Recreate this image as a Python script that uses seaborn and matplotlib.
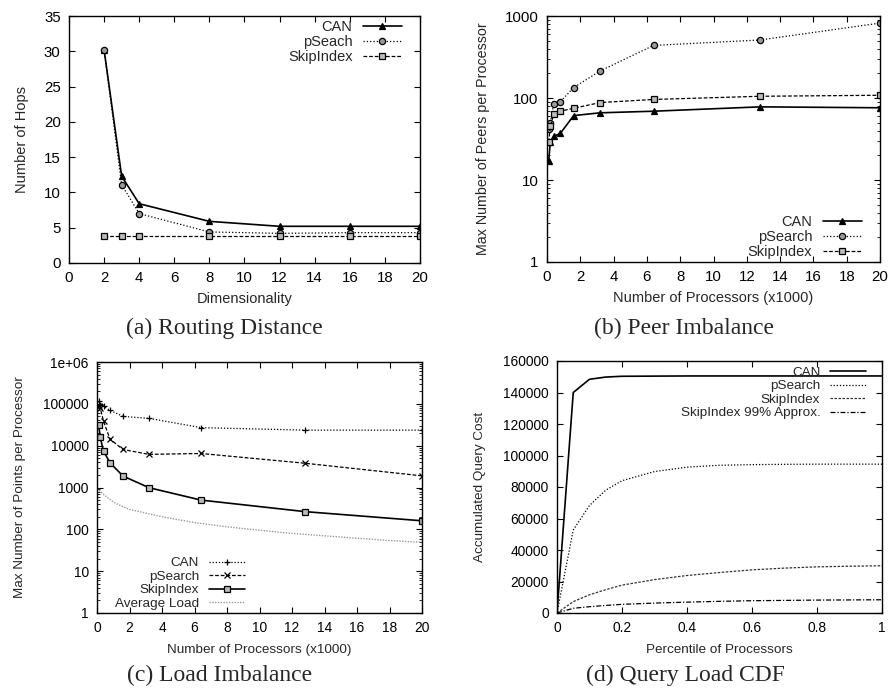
import seaborn as sns
import matplotlib.pyplot as plt
from matplotlib.ticker import FixedLocator, LogLocator, NullFormatter, FuncFormatter

# (a) Routing Distance
dims = [2, 3, 4, 8, 12, 16, 20]
hops_can = [30.2, 12.3, 8.4, 5.9, 5.2, 5.2, 5.2]
hops_psearch = [30.2, 11.1, 7.0, 4.4, 4.2, 4.3, 4.3]
hops_skip = [3.8, 3.8, 3.8, 3.8, 3.8, 3.8, 3.8]

# (b) Peer Imbalance
procs = [0.1, 0.2, 0.4, 0.8, 1.6, 3.2, 6.4, 12.8, 20]
peers_can = [17, 29, 34, 37, 61, 66, 69, 78, 76]
peers_psearch = [42, 50, 85, 90, 134, 214, 438, 510, 820]
peers_skip = [29, 45, 63, 69, 75, 88, 96, 105, 108]

# (c) Load Imbalance
load_can = [115000, 95000, 87000, 70000, 50000, 45000, 27000, 23500, 23500]
load_psearch = [90000, 80000, 38500, 14400, 8100, 6200, 6500, 3800, 1900]
load_skip = [32000, 15800, 7400, 3900, 1880, 990, 500, 265, 160]
avg_x = [0, 0.5, 1, 1.5, 2, 3, 4, 6, 8, 10, 12, 14, 16, 18, 20]
avg_load = [950, 640, 450, 360, 300, 245, 200, 145, 115, 95, 80, 70, 61, 54, 49]

# (d) Query Load CDF
pct = [0, 0.05, 0.1, 0.15, 0.2, 0.3, 0.4, 0.5, 0.6, 0.7, 0.8, 0.9, 1.0]
cdf_can = [0, 140000, 148400, 149800, 150300, 150400, 150500, 150500, 150500, 150500, 150500, 150500, 150500]
cdf_psearch = [0, 52700, 68300, 78000, 84000, 89800, 92600, 93800, 94200, 94400, 94500, 94500, 94500]
cdf_skip = [0, 7200, 11600, 14800, 17700, 21200, 23800, 25700, 27400, 28500, 29300, 29700, 30000]
cdf_skip99 = [0, 3000, 4000, 4800, 5500, 6300, 6900, 7400, 7800, 8000, 8200, 8300, 8400]

sns.set_style("ticks")
plt.rcParams["font.family"] = ["Liberation Sans", "DejaVu Sans"]

W, H = 891, 690
fig = plt.figure(figsize=(W / 100, H / 100), dpi=100)


def make_ax(l, r, t, b):
    return fig.add_axes([l / W, 1 - b / H, (r - l) / W, (b - t) / H])


def frame(ax, size):
    for s in ax.spines.values():
        s.set_color("black")
        s.set_linewidth(1.0)
    ax.tick_params(which="both", direction="in", top=True, right=True,
                   colors="black", labelsize=size, pad=6)
    ax.tick_params(which="major", length=4)
    ax.tick_params(which="minor", length=2.5)


def key(ax, x, y, loc, size):
    ax.legend(loc=loc, bbox_to_anchor=(x, y), frameon=False, markerfirst=False,
              fontsize=size, handlelength=2.7, labelspacing=0.08, borderpad=0,
              borderaxespad=0, handletextpad=0.7)


mk = dict(markersize=4.5, markeredgewidth=0.9, markeredgecolor="black")

# ---- (a)
ax1 = make_ax(69, 420, 16, 263)
sns.lineplot(x=dims, y=hops_can, ax=ax1, color="black", lw=1.2, linestyle="-",
             marker="^", markerfacecolor="black", label="CAN", **mk)
sns.lineplot(x=dims, y=hops_psearch, ax=ax1, color="black", lw=0.9, linestyle=":",
             marker="o", markerfacecolor="#999999", label="pSeach", **mk)
sns.lineplot(x=dims, y=hops_skip, ax=ax1, color="black", lw=0.9, linestyle=(0, (3, 1.5)),
             marker="s", markerfacecolor="#bbbbbb", label="SkipIndex", **mk)
ax1.set_xlim(0, 20)
ax1.set_ylim(0, 35)
ax1.set_xticks(range(0, 21, 2))
ax1.set_yticks(range(0, 36, 5))
ax1.set_xlabel("Dimensionality", fontsize=10.5, labelpad=5)
ax1.set_ylabel("Number of Hops", fontsize=10.5, labelpad=11)
frame(ax1, 10.8)
key(ax1, 0.949, 0.985, "upper right", 10.5)

# ---- (b)
ax2 = make_ax(547, 880, 16, 262)
sns.lineplot(x=procs, y=peers_can, ax=ax2, color="black", lw=1.2, linestyle="-",
             marker="^", markerfacecolor="black", label="CAN", **mk)
sns.lineplot(x=procs, y=peers_psearch, ax=ax2, color="black", lw=0.9, linestyle=":",
             marker="o", markerfacecolor="#999999", label="pSearch", **mk)
sns.lineplot(x=procs, y=peers_skip, ax=ax2, color="black", lw=0.9, linestyle=(0, (3, 1.5)),
             marker="s", markerfacecolor="#bbbbbb", label="SkipIndex", **mk)
ax2.set_yscale("log")
ax2.set_xlim(0, 20)
ax2.set_ylim(1, 1000)
ax2.set_xticks(range(0, 21, 2))
ax2.yaxis.set_major_locator(FixedLocator([1, 10, 100, 1000]))
ax2.yaxis.set_minor_locator(LogLocator(base=10, subs=range(2, 10)))
ax2.yaxis.set_minor_formatter(NullFormatter())
ax2.yaxis.set_major_formatter(FuncFormatter(lambda v, p: "%d" % v))
ax2.set_xlabel("Number of Processors (x1000)", fontsize=10.5, labelpad=5)
ax2.set_ylabel("Max Number of Peers per Processor", fontsize=10.3, labelpad=11)
frame(ax2, 10.8)
key(ax2, 0.946, 0.012, "lower right", 10.5)

# ---- (c)
ax3 = make_ax(97, 422, 362, 613)
sns.lineplot(x=procs, y=load_can, ax=ax3, color="black", lw=0.9, linestyle=(0, (1, 1.5)),
             marker="+", label="CAN", **mk)
sns.lineplot(x=procs, y=load_psearch, ax=ax3, color="black", lw=0.9, linestyle=(0, (3, 1.5)),
             marker="x", label="pSearch", **mk)
sns.lineplot(x=procs, y=load_skip, ax=ax3, color="black", lw=1.2, linestyle="-",
             marker="s", markerfacecolor="#bbbbbb", label="SkipIndex", **mk)
sns.lineplot(x=avg_x, y=avg_load, ax=ax3, color="#999999", lw=1.0, linestyle=(0, (1, 1)),
             label="Average Load")
ax3.set_yscale("log")
ax3.set_xlim(0, 20)
ax3.set_ylim(1, 1e6)
ax3.set_xticks(range(0, 21, 2))
ax3.yaxis.set_major_locator(FixedLocator([1, 10, 100, 1000, 1e4, 1e5, 1e6]))
ax3.yaxis.set_minor_locator(LogLocator(base=10, subs=range(2, 10)))
ax3.yaxis.set_minor_formatter(NullFormatter())
ax3.yaxis.set_major_formatter(FuncFormatter(lambda v, p: "1e+06" if v >= 1e6 else "%d" % v))
ax3.set_xlabel("Number of Processors (x1000)", fontsize=9.7, labelpad=6)
ax3.set_ylabel("Max Number of Points per Processor", fontsize=9.7, labelpad=12)
frame(ax3, 9.9)
key(ax3, 0.455, 0.012, "lower right", 9.7)

# ---- (d)
ax4 = make_ax(557, 882, 361, 613)
sns.lineplot(x=pct, y=cdf_can, ax=ax4, color="black", lw=1.2, linestyle="-", label="CAN")
sns.lineplot(x=pct, y=cdf_psearch, ax=ax4, color="black", lw=0.9, linestyle=(0, (1, 1.5)),
             label="pSearch")
sns.lineplot(x=pct, y=cdf_skip, ax=ax4, color="#333333", lw=0.9, linestyle=(0, (2, 1.2)),
             label="SkipIndex")
sns.lineplot(x=pct, y=cdf_skip99, ax=ax4, color="black", lw=0.9, linestyle=(0, (4, 1.5, 1, 1.5)),
             label="SkipIndex 99% Approx.")
ax4.set_xlim(0, 1)
ax4.set_ylim(0, 160000)
ax4.set_xticks([0, 0.2, 0.4, 0.6, 0.8, 1])
ax4.xaxis.set_major_formatter(FuncFormatter(lambda v, p: "%g" % v))
ax4.set_yticks(range(0, 160001, 20000))
ax4.set_xlabel("Percentile of Processors", fontsize=9.7, labelpad=6)
ax4.set_ylabel("Accumulated Query Cost", fontsize=9.7, labelpad=12)
frame(ax4, 9.9)
key(ax4, 0.951, 0.978, "upper right", 9.7)

# captions
cap = dict(ha="center", va="center", fontsize=17, family="Liberation Serif")
fig.text(224 / W, 1 - 328 / H, "(a) Routing Distance", **cap)
fig.text(684 / W, 1 - 328 / H, "(b) Peer Imbalance", **cap)
fig.text(220 / W, 1 - 675 / H, "(c) Load Imbalance", **cap)
fig.text(685 / W, 1 - 675 / H, "(d) Query Load CDF", **cap)

fig.savefig("out.png", dpi=100)
